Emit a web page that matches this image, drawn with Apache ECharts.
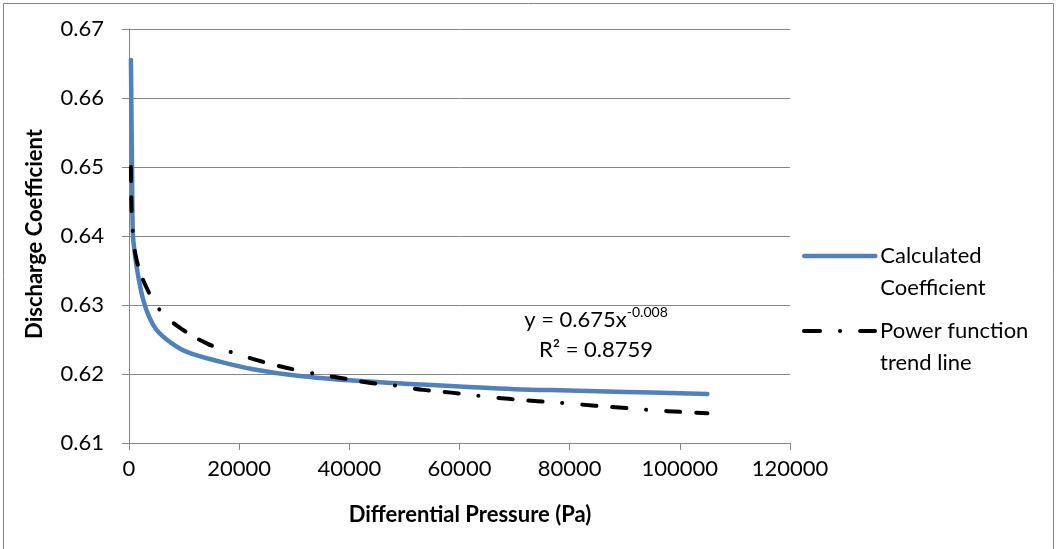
<!DOCTYPE html>
<html>
<head>
<meta charset="utf-8">
<title>Discharge Coefficient</title>
<script src="https://cdn.jsdelivr.net/npm/echarts@6/dist/echarts.min.js"></script>
<style>
	html, body { margin: 0; padding: 0; background: #fff; }
	#chart { width: 1059px; height: 549px; }
</style>
</head>
<body>
<div id="chart"></div>
<script>
	// values (Pa, coefficient)
	var calcX = [350, 550, 700, 1000, 1400, 2000, 2600, 3600, 5000, 7500, 10500, 16500, 22500, 31000, 40000, 50000, 60000, 70000, 80000, 90000, 105000];
	var calcY = [0.6655, 0.6500, 0.6404, 0.6378, 0.6355, 0.6328, 0.6307, 0.6284, 0.6264, 0.6246, 0.6232, 0.6218, 0.6207, 0.6197, 0.6191, 0.6186, 0.6182, 0.6178, 0.6176, 0.6174, 0.6171];

	var trendX = [350, 450, 700, 1400, 3200, 5900, 9800, 14200, 17300, 22000, 27000, 32700, 37900, 43000, 48500, 53400, 58500, 63900, 68900, 74200, 79600, 84600, 89600, 95100, 100300, 105000];
	var trendY = [0.6500, 0.6445, 0.6405, 0.6365, 0.6325, 0.6290, 0.6264, 0.6244, 0.6235, 0.6223, 0.6212, 0.6202, 0.6195, 0.6188, 0.6183, 0.6177, 0.6173, 0.6168, 0.6164, 0.61605, 0.61575, 0.6154, 0.6151, 0.61475, 0.6145, 0.6143];

	var xTicks = [0, 20000, 40000, 60000, 80000, 100000, 120000];
	var yTicks = [0.61, 0.62, 0.63, 0.64, 0.65, 0.66, 0.67];

	var calcName = 'Calculated Coefficient';
	var trendName = 'Power function trend line';

	var font = 'Lato, "Noto Sans", sans-serif';
	var gray = '#868686';

	function pairs(xs, ys) {
		var out = [];
		for (var i = 0; i < xs.length; i++) {
			out.push([xs[i], ys[i]]);
		}
		return out;
	}

	// legend text: blank first line keeps the icon level with the first text line
	function legendText(name) {
		if (name == calcName) return '\nCalculated\nCoefficient';
		return '\nPower function\ntrend line';
	}

	var legendBase = {
		orient: 'vertical',
		left: 802,
		padding: 0,
		itemWidth: 71,
		itemHeight: 14,
		itemGap: 7,
		selectedMode: false,
		formatter: legendText,
		itemStyle: { opacity: 0 },
		textStyle: { fontFamily: font, fontSize: 22, color: '#000', lineHeight: 32 }
	};

	var option = {
		animation: false,
		backgroundColor: '#fff',
		grid: { left: 129, right: 269, top: 29, bottom: 106 },
		legend: [
			Object.assign({}, legendBase, {
				top: 256 - 48,
				data: [{
					name: calcName,
					lineStyle: { width: 4.5, cap: 'round', color: '#4f81bd' }
				}]
			}),
			Object.assign({}, legendBase, {
				top: 331 - 48,
				data: [{
					name: trendName,
					lineStyle: { type: [16, 20, 0.1, 20, 16, 100], width: 4, cap: 'round', color: '#000' }
				}]
			})
		],
		xAxis: {
			type: 'value',
			min: xTicks[0],
			max: xTicks[xTicks.length - 1],
			interval: 20000,
			axisLine: { show: true, lineStyle: { color: gray, width: 1 } },
			axisTick: { show: true, inside: false, length: 7, lineStyle: { color: gray } },
			axisLabel: {
				margin: 15, fontFamily: font, fontSize: 22, color: '#000',
				formatter: function(v) { return String(v); }
			},
			splitLine: { show: false }
		},
		yAxis: {
			type: 'value',
			min: yTicks[0],
			max: yTicks[yTicks.length - 1],
			interval: 0.01,
			axisLine: { show: true, lineStyle: { color: gray, width: 1 } },
			axisTick: { show: true, inside: false, length: 7, lineStyle: { color: gray } },
			axisLabel: {
				margin: 25, fontFamily: font, fontSize: 22, color: '#000',
				formatter: function(v) { return v.toFixed(2); }
			},
			splitLine: { show: true, lineStyle: { color: gray, width: 1 } }
		},
		graphic: [
			{
				type: 'rect', silent: true, z: -1,
				shape: { x: 3.5, y: 3.5, width: 1050, height: 600 },
				style: { fill: 'none', stroke: gray, lineWidth: 1 }
			},
			{
				type: 'text', x: 470, y: 515,
				style: {
					text: 'Differential Pressure (Pa)', fontFamily: font, fontSize: 22, fontWeight: 'bold',
					fill: '#000', align: 'center', verticalAlign: 'middle'
				}
			},
			{
				type: 'text', x: 35, y: 234, rotation: Math.PI / 2,
				style: {
					text: 'Discharge Coefficient', fontFamily: font, fontSize: 22, fontWeight: 'bold',
					fill: '#000', align: 'center', verticalAlign: 'middle'
				}
			},
			{
				type: 'text', x: 596, y: 335,
				style: {
					text: '{a|y = 0.675x}{s|-0.008}\n{a|R² = 0.8759}',
					align: 'center', verticalAlign: 'middle',
					rich: {
						a: { fontFamily: font, fontSize: 22, color: '#000', lineHeight: 30, verticalAlign: 'middle' },
						s: { fontFamily: font, fontSize: 14, color: '#000', lineHeight: 30, verticalAlign: 'top', padding: [0, 0, 8, 0] }
					}
				}
			}
		],
		series: [
			{
				name: calcName,
				type: 'line',
				data: pairs(calcX, calcY),
				showSymbol: false,
				symbol: 'none',
				smooth: 0.4,
				lineStyle: { color: '#4f81bd', width: 4.5, cap: 'round', join: 'round' },
				itemStyle: { color: '#4f81bd' },
				z: 2
			},
			{
				name: trendName,
				type: 'line',
				data: pairs(trendX, trendY),
				showSymbol: false,
				symbol: 'none',
				smooth: 0.4,
				lineStyle: { color: '#000', width: 4, type: [14, 16, 14, 20, 0.1, 20], cap: 'round', join: 'round' },
				itemStyle: { color: '#000' },
				z: 3
			}
		]
	};

	var myChart = echarts.init(document.getElementById('chart'), null, { renderer: 'canvas' });
	myChart.setOption(option);
</script>
</body>
</html>
